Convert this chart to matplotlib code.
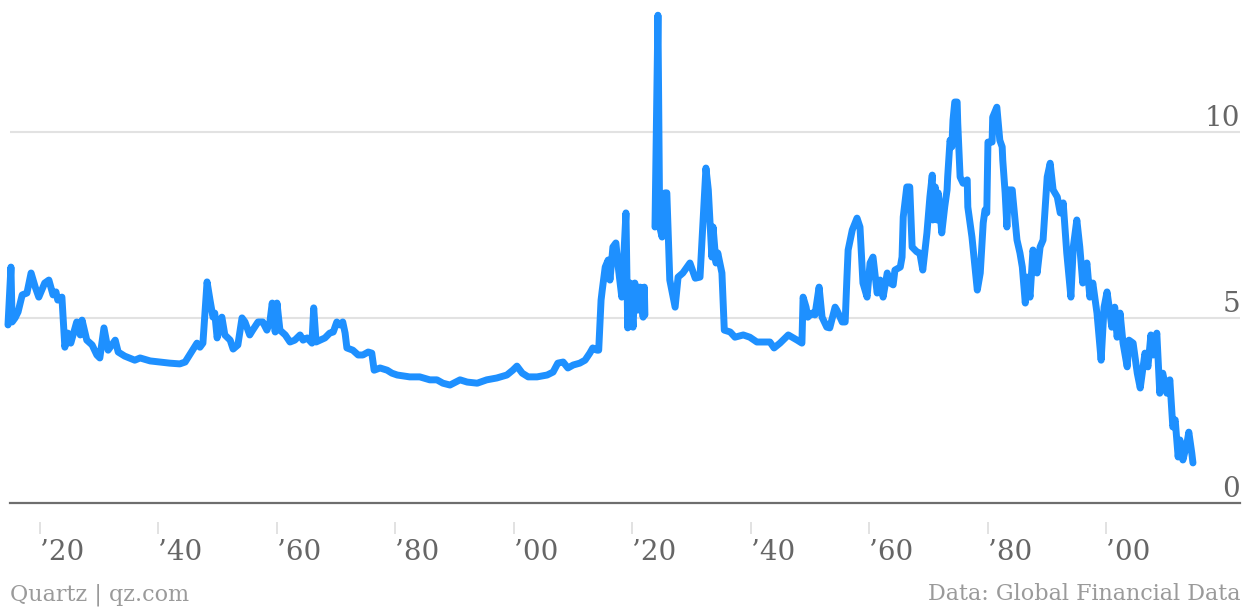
"""
Long-run bond yields, 1815-2013 (Quartz style line chart).
"""

import numpy as np
import matplotlib
matplotlib.use("Agg")
import matplotlib.pyplot as plt
import matplotlib.transforms as mtransforms

# ---- data ----
years_1800s = [
    1814.6, 1815.1, 1815.3, 1815.8, 1816.3, 1817.0, 1817.8, 1818.5, 1819.2, 1819.8,
    1820.8, 1821.5, 1822.2, 1822.7, 1823.0, 1823.7, 1824.2, 1824.7, 1825.2, 1826.2,
    1826.8, 1827.1, 1827.9, 1828.8, 1829.6, 1830.1, 1830.8, 1831.5, 1832.7, 1833.2,
    1834.3, 1836.0, 1836.9, 1838.6, 1840.3, 1841.9, 1843.6, 1844.5, 1846.5, 1847.0,
    1847.5, 1848.2, 1848.7, 1849.2, 1849.5, 1849.9, 1850.0, 1850.7, 1851.2, 1852.1,
    1852.6, 1853.4, 1854.1, 1854.6, 1855.4, 1855.9, 1856.8, 1857.6, 1858.3, 1858.8,
    1859.2, 1859.7, 1860.0, 1860.5, 1861.4, 1862.2, 1863.0, 1863.9, 1864.4, 1865.1,
    1865.9, 1866.2, 1866.6, 1867.3, 1868.1, 1868.9, 1869.5, 1870.1, 1870.6, 1871.1,
    1871.5, 1871.8, 1872.8, 1873.7, 1874.5, 1875.4, 1876.0, 1876.4, 1877.4, 1878.6,
    1879.4, 1880.3, 1882.4, 1884.1, 1885.8, 1887.0, 1888.0, 1889.2, 1890.9, 1892.1,
    1893.8, 1895.4, 1897.1, 1898.8, 1899.8,
]
yields_1800s = [
    4.80, 6.36, 4.88, 4.99, 5.15, 5.61, 5.66, 6.20, 5.82, 5.55,
    5.93, 6.01, 5.61, 5.69, 5.47, 5.55, 4.20, 4.58, 4.31, 4.88,
    4.53, 4.93, 4.39, 4.26, 3.99, 3.91, 4.72, 4.12, 4.39, 4.07,
    3.96, 3.85, 3.91, 3.83, 3.80, 3.77, 3.75, 3.80, 4.31, 4.20,
    4.31, 5.96, 5.47, 5.01, 5.12, 4.45, 4.53, 5.01, 4.53, 4.39,
    4.15, 4.26, 4.99, 4.88, 4.53, 4.66, 4.88, 4.88, 4.66, 4.88,
    5.39, 4.61, 5.39, 4.66, 4.53, 4.34, 4.39, 4.53, 4.39, 4.45,
    4.31, 5.26, 4.34, 4.39, 4.45, 4.58, 4.61, 4.88, 4.80, 4.88,
    4.58, 4.18, 4.12, 3.99, 3.99, 4.07, 4.04, 3.58, 3.64, 3.58,
    3.50, 3.45, 3.40, 3.40, 3.32, 3.32, 3.23, 3.18, 3.32, 3.26,
    3.23, 3.32, 3.37, 3.45, 3.58,
]

years_1900s = [
    1900.5, 1901.4, 1902.4, 1903.9, 1905.6, 1906.6, 1907.4, 1908.3, 1909.1, 1910.0,
    1911.1, 1912.0, 1912.8, 1913.3, 1914.0, 1914.3, 1914.7, 1914.9, 1915.4, 1915.9,
    1916.2, 1916.7, 1917.2, 1917.6, 1918.2, 1918.9, 1919.2, 1919.6, 1920.1, 1920.4,
    1920.9, 1921.3, 1921.8, 1922.0, 1922.1, 1923.0,
    1923.8, 1924.3, 1924.6, 1925.0, 1925.5, 1925.8, 1926.3, 1927.2, 1927.7, 1928.5,
    1929.7, 1930.6, 1931.4, 1932.4, 1932.8, 1933.4, 1933.6, 1934.1, 1934.4, 1935.1,
    1935.5, 1936.5, 1937.3, 1938.7, 1939.8, 1941.0, 1942.4, 1943.2, 1943.9, 1944.9,
    1946.3, 1947.8, 1948.6, 1948.8, 1949.3, 1949.6, 1950.3, 1950.8, 1951.5, 1952.0,
    1952.8, 1953.3, 1954.2, 1954.5, 1955.4, 1955.9, 1956.2, 1956.4, 1957.1, 1957.9,
    1958.4, 1958.9, 1959.6, 1960.1, 1960.6, 1961.3, 1961.8, 1962.3, 1963.0, 1963.5,
    1964.0, 1964.3, 1965.2, 1965.5, 1965.7, 1966.3, 1966.8, 1967.2, 1968.0, 1968.5,
    1969.0, 1969.7, 1970.2, 1970.6, 1970.7, 1971.1, 1971.4, 1971.6, 1971.9, 1972.2,
    1972.7, 1973.1, 1973.2, 1973.6, 1973.9, 1974.1, 1974.4, 1974.8, 1974.9, 1975.3,
    1975.8, 1976.5, 1976.6, 1977.3, 1977.8, 1978.2, 1978.7, 1979.2, 1979.5, 1979.8,
    1980.0, 1980.7, 1980.8, 1981.5, 1982.0, 1982.4, 1982.5, 1982.9, 1983.2, 1983.4,
    1984.1, 1984.2, 1984.9, 1985.4, 1985.8, 1986.3, 1986.6, 1987.1, 1987.6, 1988.3,
    1988.8, 1989.3, 1990.0, 1990.5, 1991.0, 1991.7, 1992.2, 1992.5, 1992.7, 1993.3,
    1994.0, 1994.4, 1995.0, 1995.5, 1996.0, 1996.7, 1997.2, 1997.7, 1998.4, 1999.1,
    1999.6,
]
yields_1900s = [
    3.69, 3.50, 3.40, 3.40, 3.45, 3.53, 3.77, 3.80, 3.64, 3.72,
    3.77, 3.85, 4.04, 4.18, 4.12, 4.12, 5.47, 5.74, 6.36, 6.55,
    6.01, 6.90, 7.01, 6.36, 5.55, 7.82, 4.72, 5.93, 4.74, 5.93,
    5.20, 5.82, 5.01, 5.82, 5.07, np.nan,
    7.44, 13.15, 7.44, 7.17, 8.36, 8.36, 6.01, 5.28, 6.09, 6.20,
    6.47, 6.06, 6.09, 9.03, 8.44, 6.63, 7.44, 6.47, 6.74, 6.20,
    4.66, 4.61, 4.47, 4.53, 4.47, 4.34, 4.34, 4.34, 4.18, 4.31,
    4.53, 4.39, 4.31, 5.55, 5.28, 5.01, 5.12, 5.07, 5.82, 5.01,
    4.74, 4.72, 5.28, 5.20, 4.88, 4.88, 6.09, 6.82, 7.36, 7.68,
    7.44, 5.93, 5.55, 6.47, 6.63, 5.66, 6.01, 5.55, 6.20, 5.93,
    5.88, 6.28, 6.36, 6.63, 7.71, 8.52, 8.52, 6.90, 6.77, 6.74,
    6.28, 7.28, 8.25, 8.84, 7.63, 8.52, 7.63, 8.36, 7.90, 7.28,
    7.98, 8.44, 8.79, 9.78, 9.60, 10.32, 10.81, 10.81, 10.24, 8.79,
    8.62, 8.71, 7.98, 7.17, 6.36, 5.74, 6.20, 7.55, 7.90, 7.82,
    9.73, 9.73, 10.40, 10.67, 9.78, 9.60, 9.24, 8.36, 7.44, 8.44,
    8.44, 8.25, 7.09, 6.74, 6.36, 5.39, 6.09, 5.55, 6.82, 6.20,
    6.90, 7.09, 8.79, 9.16, 8.44, 8.25, 7.82, 7.82, 8.09, 6.74,
    5.55, 6.90, 7.63, 6.90, 5.93, 6.47, 5.55, 5.93, 5.12, 3.85,
    5.28,
]

years_2000s = [
    2000.1, 2000.6, 2000.9, 2001.4, 2001.8, 2002.3, 2002.8, 2003.5, 2003.8, 2004.5,
    2005.2, 2005.7, 2006.5, 2007.0, 2007.5, 2007.9, 2008.5, 2009.0, 2009.5, 2010.2,
    2010.7, 2011.2, 2011.6, 2012.1, 2012.4, 2012.9, 2013.6, 2013.9, 2014.4, 2014.6,
]
yields_2000s = [
    5.69, 5.12, 4.74, 5.28, 4.47, 5.12, 4.31, 3.67, 4.39, 4.31,
    3.50, 3.10, 4.04, 3.67, 4.53, 3.99, 4.58, 2.96, 3.50, 2.96,
    3.32, 2.05, 2.24, 1.24, 1.70, 1.16, 1.62, 1.91, 1.35, 1.08,
]

x_ticks = [1820, 1840, 1860, 1880, 1900, 1920, 1940, 1960, 1980, 2000]
x_labels = ["\u201920", "\u201940", "\u201960", "\u201980", "\u201900",
            "\u201920", "\u201940", "\u201960", "\u201980", "\u201900"]
y_ticks = [0, 5, 10]
y_labels = ["0", "5", "10"]

LINE = "#1e90ff"
LABEL = "#666666"
SOURCE = "#9a9a9a"

plt.rcParams["font.family"] = "DejaVu Serif"

years = years_1800s + years_1900s + years_2000s
yields = yields_1800s + yields_1900s + yields_2000s

fig = plt.figure(figsize=(12.51, 6.07), dpi=100)
ax = fig.add_axes([10 / 1251, 104 / 607, 1230 / 1251, 503 / 607])
ax.set_xlim(1814.94, 2022.54)
ax.set_ylim(0, 13.56)
for s in ax.spines.values():
    s.set_visible(False)
ax.set_xticks([])
ax.set_yticks([])

# grid + baseline
for v in y_ticks[1:]:
    ax.axhline(v, color="#e2e2e2", lw=1.5, zorder=1)
ax.axhline(0, color="#6e6e6e", lw=1.6, zorder=2, clip_on=False)

ax.plot(years, yields, color=LINE, lw=5, solid_joinstyle="round",
        solid_capstyle="round", clip_on=False, zorder=3)

# y labels sit on top of their gridlines at the right edge
ytrans = mtransforms.blended_transform_factory(ax.transAxes, ax.transData)
for v, lab in zip(y_ticks, y_labels):
    ax.text(1.0, v, lab, transform=ytrans, ha="right", va="bottom",
            fontsize=20, color=LABEL)

# x ticks: short light marks below the baseline, labels left aligned
xtrans = mtransforms.blended_transform_factory(ax.transData, ax.transAxes)
ax.vlines(x_ticks, -0.0378, -0.0616, transform=xtrans, color="#dddddd",
          lw=1.2, clip_on=False)
for x, lab in zip(x_ticks, x_labels):
    ax.text(x, -0.072, lab, transform=xtrans, ha="left", va="top",
            fontsize=20, color=LABEL)

fig.text(10 / 1251, 7 / 607, "Quartz | qz.com", ha="left", va="baseline",
         fontsize=16, color=SOURCE)
fig.text(1240 / 1251, 7 / 607, "Data: Global Financial Data", ha="right",
         va="baseline", fontsize=16, color=SOURCE)

fig.savefig("out.png", dpi=100)
